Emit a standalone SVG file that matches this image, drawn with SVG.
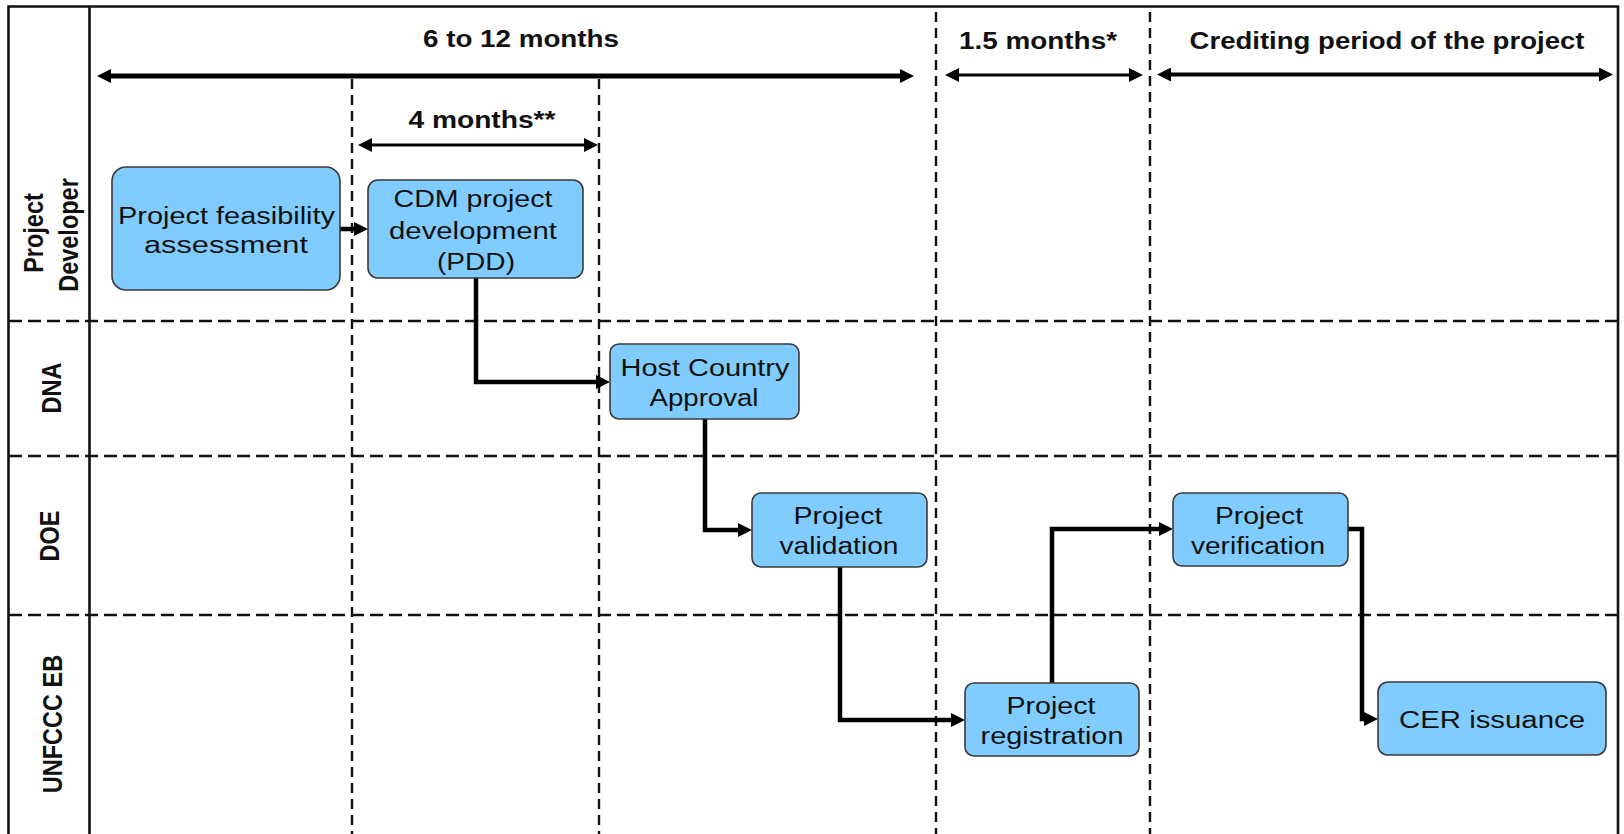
<svg xmlns="http://www.w3.org/2000/svg" width="1624" height="834" viewBox="0 0 1624 834">
<style>
.frame{fill:none;stroke:#111;stroke-width:2.6}
.hd{fill:none;stroke:#111;stroke-width:2.4;stroke-dasharray:13 6}
.vd{fill:none;stroke:#111;stroke-width:2.4;stroke-dasharray:10 6}
.box{fill:#80CCFF;stroke:#3a3a3a;stroke-width:1.6}
.bt{font-family:"Liberation Sans",Arial,sans-serif;font-size:23px;fill:#111;text-anchor:middle}
.ht{font-family:"Liberation Sans",Arial,sans-serif;font-size:23px;font-weight:bold;fill:#111;text-anchor:middle}
.lane{font-family:"Liberation Sans",Arial,sans-serif;font-size:23.5px;font-weight:bold;fill:#111;text-anchor:middle}
.conn{fill:none;stroke:#000;stroke-width:4.5}
.span{fill:none;stroke:#000}
</style>
<defs>
<marker id="ah" viewBox="0 0 14 14" markerWidth="14" markerHeight="14" markerUnits="userSpaceOnUse" refX="7" refY="7" orient="auto-start-reverse">
<path d="M0,0 L14,7 L0,14 z" fill="#000"/>
</marker>
</defs>

<g id="grid">
<path class="frame" d="M8.5,840 V6.5 H1618 V840"/>
<path class="frame" d="M89.5,6.5 V840"/>
<path class="hd" d="M9,321 H1617"/>
<path class="hd" d="M9,456 H1617"/>
<path class="hd" d="M9,615 H1617"/>
<path class="vd" d="M352,79 V834"/>
<path class="vd" d="M599,79 V834"/>
<path class="vd" d="M936,12 V834"/>
<path class="vd" d="M1150,12 V834"/>
</g>

<g id="lanes">
<text class="lane" transform="translate(43,233) scale(1.2,1) rotate(-90)">Project</text>
<text class="lane" transform="translate(78,235) scale(1.2,1) rotate(-90)">Developer</text>
<text class="lane" transform="translate(61,388) scale(1.2,1) rotate(-90)">DNA</text>
<text class="lane" transform="translate(59,536) scale(1.2,1) rotate(-90)">DOE</text>
<text class="lane" transform="translate(62,724) scale(1.2,1) rotate(-90)">UNFCCC EB</text>
</g>

<g id="timeline">
<text class="ht" x="521" y="47" textLength="196" lengthAdjust="spacingAndGlyphs">6 to 12 months</text>
<path class="span" stroke-width="5" d="M104,76 H907" marker-start="url(#ah)" marker-end="url(#ah)"/>
<text class="ht" x="482" y="128" textLength="147" lengthAdjust="spacingAndGlyphs">4 months**</text>
<path class="span" stroke-width="3" d="M365,145 H591" marker-start="url(#ah)" marker-end="url(#ah)"/>
<text class="ht" x="1038" y="49" textLength="158" lengthAdjust="spacingAndGlyphs">1.5 months*</text>
<path class="span" stroke-width="3" d="M952,75 H1136" marker-start="url(#ah)" marker-end="url(#ah)"/>
<text class="ht" x="1387" y="49" textLength="395" lengthAdjust="spacingAndGlyphs">Crediting period of the project</text>
<path class="span" stroke-width="4" d="M1164,74.5 H1606" marker-start="url(#ah)" marker-end="url(#ah)"/>
</g>

<g id="connectors">
<path class="conn" d="M340,229 H361" marker-end="url(#ah)"/>
<path class="conn" d="M476,278 V382 H603" marker-end="url(#ah)"/>
<path class="conn" d="M705,419 V530 H745" marker-end="url(#ah)"/>
<path class="conn" d="M840,567 V720 H958" marker-end="url(#ah)"/>
<path class="conn" d="M1052,683 V529 H1166" marker-end="url(#ah)"/>
<path class="conn" d="M1348,529 H1362 V719 H1371" marker-end="url(#ah)"/>
</g>

<g id="n-feasibility">
<rect class="box" x="112" y="167" width="228" height="123" rx="14"/>
<text class="bt" x="226.5" y="224" textLength="217" lengthAdjust="spacingAndGlyphs">Project feasibility</text>
<text class="bt" x="226" y="253" textLength="164" lengthAdjust="spacingAndGlyphs">assessment</text>
</g>

<g id="n-cdm">
<rect class="box" x="368" y="180" width="215" height="98" rx="10"/>
<text class="bt" x="473" y="207" textLength="159" lengthAdjust="spacingAndGlyphs">CDM project</text>
<text class="bt" x="473" y="239" textLength="168" lengthAdjust="spacingAndGlyphs">development</text>
<text class="bt" x="476" y="270" textLength="78" lengthAdjust="spacingAndGlyphs">(PDD)</text>
</g>

<g id="n-host">
<rect class="box" x="610" y="344" width="189" height="75" rx="9"/>
<text class="bt" x="705" y="376" textLength="169" lengthAdjust="spacingAndGlyphs">Host Country</text>
<text class="bt" x="704" y="406" textLength="109" lengthAdjust="spacingAndGlyphs">Approval</text>
</g>

<g id="n-validation">
<rect class="box" x="752" y="493" width="175" height="74" rx="9"/>
<text class="bt" x="838" y="524" textLength="89" lengthAdjust="spacingAndGlyphs">Project</text>
<text class="bt" x="839" y="554" textLength="119" lengthAdjust="spacingAndGlyphs">validation</text>
</g>

<g id="n-registration">
<rect class="box" x="965" y="683" width="174" height="73" rx="9"/>
<text class="bt" x="1051" y="714" textLength="89" lengthAdjust="spacingAndGlyphs">Project</text>
<text class="bt" x="1052" y="744" textLength="143" lengthAdjust="spacingAndGlyphs">registration</text>
</g>

<g id="n-verification">
<rect class="box" x="1173" y="493" width="175" height="73" rx="9"/>
<text class="bt" x="1259" y="524" textLength="88" lengthAdjust="spacingAndGlyphs">Project</text>
<text class="bt" x="1258" y="554" textLength="134" lengthAdjust="spacingAndGlyphs">verification</text>
</g>

<g id="n-cer">
<rect class="box" x="1378" y="682" width="228" height="73" rx="10"/>
<text class="bt" x="1492" y="728" textLength="186" lengthAdjust="spacingAndGlyphs">CER issuance</text>
</g>
</svg>
